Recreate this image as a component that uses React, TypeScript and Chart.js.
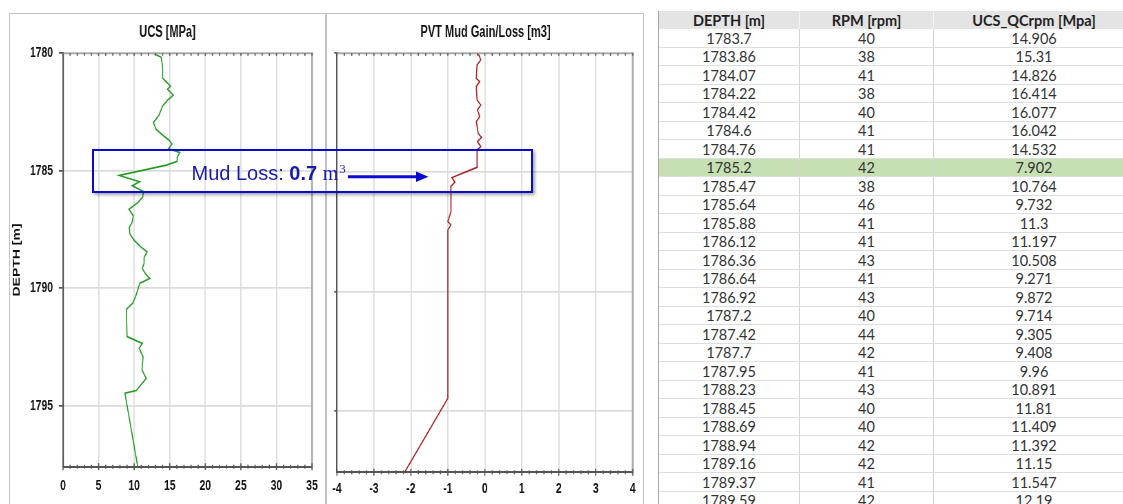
import React, { useEffect, useRef } from 'react';
import { Chart, registerables } from 'chart.js';
Chart.register(...registerables);

// ---- UCS track (depth m, UCS MPa) ----
const ucsDepth = [1780.0, 1780.17, 1780.57, 1781.06, 1781.21, 1781.39, 1781.53, 1781.78, 1781.99, 1782.24, 1782.63, 1782.95, 1783.24, 1783.48, 1783.7, 1783.86, 1784.07, 1784.22, 1784.42, 1784.6, 1784.76, 1785.2, 1785.47, 1785.64, 1785.88, 1786.12, 1786.36, 1786.64, 1786.92, 1787.2, 1787.42, 1787.7, 1787.95, 1788.23, 1788.45, 1788.69, 1788.94, 1789.16, 1789.37, 1789.59, 1789.79, 1790.36, 1790.64, 1790.9, 1792.06, 1792.35, 1792.56, 1792.92, 1793.48, 1793.84, 1794.36, 1794.47, 1797.6];
const ucsValue = [12.7, 13.8, 14.0, 14.0, 14.5, 15.1, 14.7, 15.5, 14.7, 14.0, 13.5, 12.7, 13.1, 14.0, 14.906, 15.31, 14.826, 16.414, 16.077, 16.042, 14.532, 7.902, 10.764, 9.732, 11.3, 11.197, 10.508, 9.271, 9.872, 9.714, 9.305, 9.408, 9.96, 10.891, 11.81, 11.409, 11.392, 11.15, 11.547, 12.19, 10.8, 10.2, 9.8, 8.9, 9.0, 11.15, 10.7, 11.25, 11.1, 11.7, 10.3, 8.7, 10.5];

// ---- PVT track (depth m, gain/loss m3) ----
const pvtDepth = [1780.0, 1780.28, 1780.49, 1781.05, 1781.19, 1781.4, 1781.96, 1782.17, 1782.38, 1782.66, 1782.87, 1783.36, 1783.53, 1783.71, 1783.92, 1784.06, 1784.79, 1785.22, 1785.41, 1785.59, 1785.88, 1786.65, 1787.07, 1787.21, 1787.42, 1794.49, 1797.6];
const pvtValue = [-0.18, -0.11, -0.21, -0.23, -0.14, -0.23, -0.21, -0.11, -0.2, -0.14, -0.23, -0.18, -0.09, -0.2, -0.11, -0.21, -0.21, -0.89, -0.81, -0.92, -0.91, -0.92, -1.0, -0.92, -1.0, -1.0, -2.17];

// ---- axis settings ----
const depthMin = 1780;
const depthMax = 1797.6;
const depthStep = 5;
const ucsRange = [0, 35];
const pvtRange = [-4, 4];

// ---- table ----
const tableHeaders = ['DEPTH [m]', 'RPM [rpm]', 'UCS_QCrpm [Mpa]'];
const tableDepth = ['1783.7', '1783.86', '1784.07', '1784.22', '1784.42', '1784.6', '1784.76', '1785.2', '1785.47', '1785.64', '1785.88', '1786.12', '1786.36', '1786.64', '1786.92', '1787.2', '1787.42', '1787.7', '1787.95', '1788.23', '1788.45', '1788.69', '1788.94', '1789.16', '1789.37', '1789.59'];
const tableRpm = ['40', '38', '41', '38', '40', '41', '41', '42', '38', '46', '41', '41', '43', '41', '43', '40', '44', '42', '41', '43', '40', '40', '42', '42', '41', '42'];
const tableUcs = ['14.906', '15.31', '14.826', '16.414', '16.077', '16.042', '14.532', '7.902', '10.764', '9.732', '11.3', '11.197', '10.508', '9.271', '9.872', '9.714', '9.305', '9.408', '9.96', '10.891', '11.81', '11.409', '11.392', '11.15', '11.547', '12.19'];
const highlightDepth = '1785.2';

const FONT = "'Liberation Sans', Arial, sans-serif";

function framePlugin(minorStep: number, majorStep: number) {
  return {
    id: 'frameTicks',
    afterDraw(chart: any) {
      const { ctx, chartArea } = chart;
      const xs = chart.scales.x;
      const { top, bottom, left, right } = chartArea;
      ctx.save();
      ctx.strokeStyle = '#a8a8a8';
      ctx.lineWidth = 2.6;
      ctx.beginPath();
      ctx.moveTo(right, top - 1);
      ctx.lineTo(right, bottom);
      ctx.stroke();
      ctx.lineWidth = 1.8;
      ctx.beginPath();
      ctx.moveTo(left, top);
      ctx.lineTo(right + 1, top);
      ctx.stroke();
      ctx.strokeStyle = '#555';
      ctx.lineWidth = 1.7;
      const n = Math.round((xs.max - xs.min) / minorStep);
      for (let i = 0; i <= n; i++) {
        const v = xs.min + i * minorStep;
        const r = v / majorStep;
        const major = Math.abs(r - Math.round(r)) < 1e-6;
        const px = xs.getPixelForValue(v);
        const h = major ? 3.5 : 2;
        ctx.beginPath();
        ctx.moveTo(px, bottom - h);
        ctx.lineTo(px, bottom + h);
        ctx.stroke();
        ctx.beginPath();
        ctx.moveTo(px, top);
        ctx.lineTo(px, top + 2.5);
        ctx.stroke();
      }
      ctx.restore();
    },
  };
}

type TrackProps = {
  title: string;
  depth: number[];
  values: number[];
  color: string;
  range: number[];
  majorStep: number;
  minorStep: number;
  yAxisW: number;
  rightW: number;
  xAxisH: number;
  xLabelPad: number;
  showYLabels: boolean;
  yTickLen: number;
  yTitle?: string;
  yTitlePad?: number;
  logicalW: number;
  visibleW: number;
  left: number;
};

function Track(p: TrackProps) {
  const ref = useRef<HTMLCanvasElement>(null);
  useEffect(() => {
    if (!ref.current) return;
    const data = p.depth.map((d, i) => ({ x: p.values[i], y: d }));
    const chart = new Chart(ref.current, {
      type: 'scatter',
      data: {
        datasets: [
          {
            data,
            showLine: true,
            borderColor: p.color,
            borderWidth: 1.6,
            pointRadius: 0,
            tension: 0,
          },
        ],
      },
      options: {
        animation: false,
        responsive: false,
        layout: { padding: 0 },
        plugins: {
          legend: { display: false },
          tooltip: { enabled: false },
          title: {
            display: true,
            text: p.title,
            color: '#111',
            font: { family: FONT, size: 16, weight: 'bold' },
            padding: { top: 9.1, bottom: 11 },
          },
        },
        scales: {
          x: {
            type: 'linear',
            min: p.range[0],
            max: p.range[1],
            ticks: {
              stepSize: p.majorStep,
              autoSkip: false,
              maxRotation: 0,
              padding: p.xLabelPad,
              color: '#111',
              font: { family: FONT, size: 15, weight: 'bold' },
              callback: (v: any) => String(v),
            },
            grid: { color: '#dcdcdc', lineWidth: 1.8, drawTicks: false },
            border: { display: true, color: '#555', width: 2 },
            afterFit: (s: any) => {
              s.height = p.xAxisH;
            },
          },
          y: {
            type: 'linear',
            reverse: true,
            min: depthMin,
            max: depthMax,
            afterBuildTicks: (s: any) => {
              s.ticks = s.ticks.filter((t: any) => {
                const r = (t.value - depthMin) / depthStep;
                return Math.abs(r - Math.round(r)) < 1e-6;
              });
            },
            ticks: {
              stepSize: depthStep,
              display: p.showYLabels,
              padding: 8.5,
              color: '#111',
              font: { family: FONT, size: 15, weight: 'bold' },
              callback: (v: any) => String(v),
            },
            grid: { color: '#dcdcdc', lineWidth: 1.7, drawTicks: true, tickLength: p.yTickLen, tickColor: '#555' },
            border: { display: true, color: '#555', width: 2.2 },
            title: {
              display: !!p.yTitle,
              text: p.yTitle || '',
              color: '#111',
              font: { family: FONT, size: 14, weight: 'bold' },
              padding: { top: p.yTitlePad || 0, bottom: 0 },
            },
            afterFit: (s: any) => {
              s.width = p.yAxisW;
            },
          },
          yR: {
            type: 'linear',
            position: 'right',
            display: true,
            grid: { display: false, drawTicks: false },
            ticks: { display: false },
            border: { display: false },
            afterFit: (s: any) => {
              s.width = p.rightW;
            },
          },
        },
      } as any,
      plugins: [framePlugin(p.minorStep, p.majorStep)],
    });
    return () => chart.destroy();
  }, []);
  return (
    <div
      style={{
        position: 'absolute',
        left: p.left,
        top: 14,
        width: p.logicalW,
        height: 490,
        transform: `scaleX(${p.visibleW / p.logicalW})`,
        transformOrigin: '0 0',
      }}
    >
      <canvas ref={ref} width={p.logicalW} height={490} style={{ display: 'block' }} />
    </div>
  );
}

export default function App() {
  const L1 = 457;
  const V1 = 315;
  const S1 = V1 / L1;
  const L2 = 459;
  const V2 = 317;
  const S2 = V2 / L2;
  const colW = [141, 134, 200];
  const rowH = 18.5;
  const headH = 18.3;
  const cell = (w: number, last: boolean): React.CSSProperties => ({
    width: w,
    boxSizing: 'border-box',
    textAlign: 'center',
    borderRight: last ? 'none' : '1px solid #d4d4d4',
    height: '100%',
    display: 'flex',
    alignItems: 'center',
    justifyContent: 'center',
  });
  return (
    <div
      style={{
        position: 'absolute',
        left: 0,
        top: 0,
        width: 1123,
        height: 504,
        overflow: 'hidden',
        background: '#fff',
      }}
    >
      {/* panel frames */}
      <div style={{ position: 'absolute', left: 9, top: 12.5, width: 317, height: 520, border: '1.8px solid #c3c3c3', boxSizing: 'border-box' }} />
      <div style={{ position: 'absolute', left: 326, top: 12.5, width: 318, height: 520, border: '1.8px solid #c3c3c3', boxSizing: 'border-box' }} />

      <Track
        title="UCS [MPa]"
        depth={ucsDepth}
        values={ucsValue}
        color="#239a23"
        range={ucsRange}
        majorStep={5}
        minorStep={1}
        yAxisW={(63 - 10) / S1}
        rightW={L1 - (313 - 10) / S1}
        xAxisH={490 - (466.7 - 14)}
        xLabelPad={10.5}
        showYLabels={true}
        yTickLen={6}
        yTitle="DEPTH [m]"
        yTitlePad={1.76}
        logicalW={L1}
        visibleW={V1}
        left={10}
      />
      <Track
        title="PVT Mud Gain/Loss [m3]"
        depth={pvtDepth}
        values={pvtValue}
        color="#a82020"
        range={pvtRange}
        majorStep={1}
        minorStep={0.2}
        yAxisW={(334.3 - 327) / S2}
        rightW={L2 - (632.7 - 327) / S2}
        xAxisH={490 - (472.3 - 14)}
        xLabelPad={7.7}
        showYLabels={false}
        yTickLen={4}
        logicalW={L2}
        visibleW={V2}
        left={327}
      />

      {/* annotation */}
      <div
        style={{
          position: 'absolute',
          left: 92,
          top: 149,
          width: 441,
          height: 44,
          border: '2px solid #0b0bd0',
          boxSizing: 'border-box',
          boxShadow: '2px 2px 3px rgba(0,0,0,0.35)',
        }}
      />
      <div
        style={{
          position: 'absolute',
          left: 191.5,
          top: 163,
          height: 20,
          lineHeight: '20px',
          fontFamily: FONT,
          fontSize: 20,
          color: '#1a1aa8',
          whiteSpace: 'nowrap',
        }}
      >
        Mud Loss: <b>0.7</b>{' '}
        <span style={{ fontFamily: "'Liberation Serif', 'Times New Roman', serif" }}>
          m<span style={{ fontSize: 13, position: 'relative', top: -7, marginLeft: 1 }}>3</span>
        </span>
      </div>
      <svg style={{ position: 'absolute', left: 0, top: 0 }} width={1123} height={504}>
        <line x1={348} y1={176.7} x2={419} y2={176.7} stroke="#0b0bd0" strokeWidth={3} />
        <polygon points="416,171.5 428.5,176.7 416,182" fill="#0b0bd0" />
      </svg>

      {/* data table */}
      <div
        style={{
          position: 'absolute',
          left: 658,
          top: 11,
          width: 475,
          borderLeft: '1px solid #a6a6a6',
          fontFamily: "Lato, 'Open Sans', sans-serif",
          color: '#333',
        }}
      >
        <div style={{ display: 'flex', height: headH, background: '#e4e4e4', fontWeight: 'bold', fontSize: 14.5, color: '#222' }}>
          {tableHeaders.map((h, i) => (
            <div key={h} style={{ ...cell(colW[i], i === 2), borderRight: i === 2 ? 'none' : '1px solid #f4f4f4' }}>
              {h}
            </div>
          ))}
        </div>
        {tableDepth.map((d, r) => (
          <div
            key={d}
            style={{
              display: 'flex',
              height: rowH,
              boxSizing: 'border-box',
              borderBottom: '1px solid #dedede',
              background: d === highlightDepth ? '#c6e0b4' : '#fff',
              fontSize: 14.5,
            }}
          >
            <div style={cell(colW[0], false)}>{d}</div>
            <div style={cell(colW[1], false)}>{tableRpm[r]}</div>
            <div style={cell(colW[2], true)}>{tableUcs[r]}</div>
          </div>
        ))}
      </div>
    </div>
  );
}
